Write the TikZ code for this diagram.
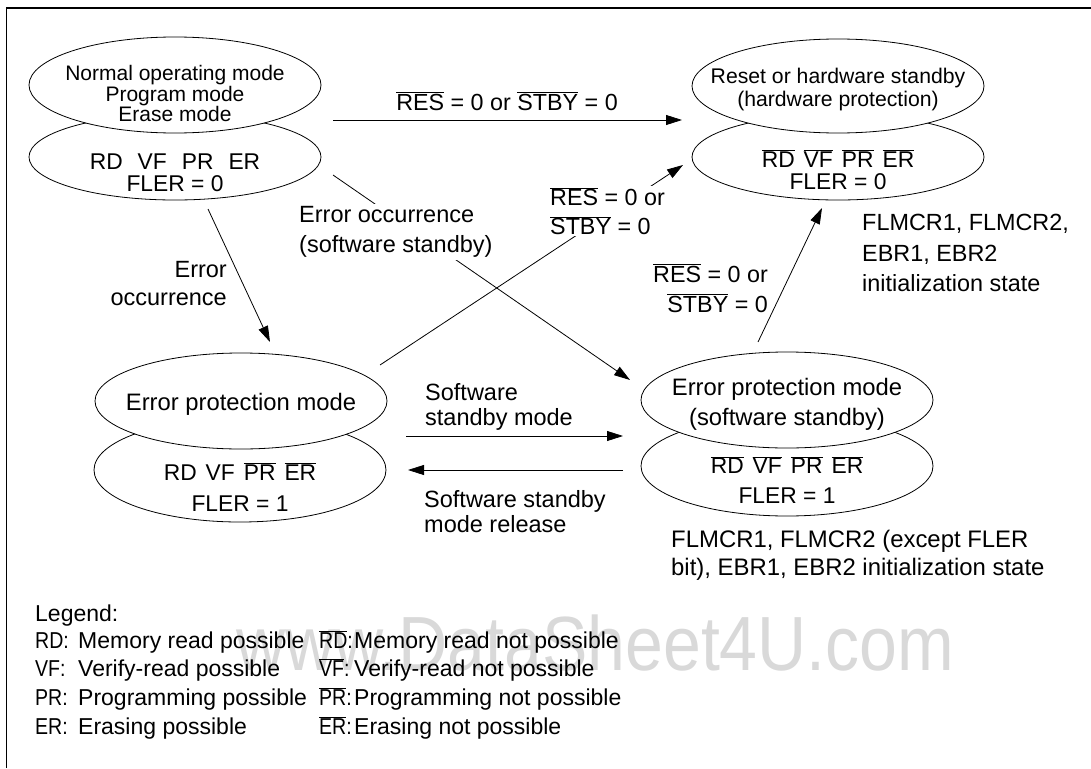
\documentclass[tikz,border=0pt]{standalone}
\usepackage{fontspec}
\setmainfont{Liberation Sans}
\newfontfamily\wmfont{Liberation Sans}
\usetikzlibrary{arrows.meta,shapes.geometric}
\newcommand{\ovl}[1]{$\overline{\mbox{#1}}$}
\newcommand{\gw}{\hspace{15pt}}
\newcommand{\gn}{\hspace{9pt}}
\newcommand{\nk}[1]{\scalebox{0.85}[1]{#1}}
\newcommand{\fs}[2]{\fontsize{#1}{#2}\selectfont}
\begin{document}
\begin{tikzpicture}[x=1pt,y=-1pt,
  font=\fs{23.5}{30},
  ell/.style={draw, ellipse, fill=white, minimum width=292pt, inner sep=0pt, line width=0.8pt},
  arr/.style={-{Triangle[length=16pt,width=10pt]}, line width=0.8pt},
  lbl/.style={inner sep=1pt},
  wl/.style={inner sep=2pt, fill=white},
  lgd/.style={inner sep=0pt, anchor=base west, font=\fs{23}{28}}]
\useasboundingbox (0,0) rectangle (1091,768);
\draw[line width=1.2pt] (6.5,768) -- (6.5,8) -- (1091,8);

% watermark
\node[anchor=base west, text=black!15, font=\wmfont\fs{68}{68}, inner sep=0pt] (wm) at (236,670) {\scalebox{1}[1.13]{www.DataSheet4U.com}};

% ellipses
\node[ell, minimum height=86pt] (A2) at (175,157) {};
\node[ell, minimum height=96pt] (A) at (175,85) {};
\node[ell, minimum height=86pt] (B2) at (838,157) {};
\node[ell, minimum height=94pt] (B) at (838,86) {};
\node[ell, minimum height=104pt] (C2) at (240,470) {};
\node[ell, minimum height=96pt] (C) at (241,401) {};
\node[ell, minimum height=100pt] (D2) at (787,466) {};
\node[ell, minimum height=96pt] (D) at (787,400) {};

% ellipse texts
\node[lbl, align=center, font=\fs{21}{20.5}] (At) at (175,93.5) {Normal operating mode\\Program mode\\Erase mode};
\node[lbl, align=center, font=\fs{22.8}{22.5}] (A2t) at (175,173) {RD\gw VF\gw PR\gw ER\\FLER = 0};
\node[lbl, align=center, font=\fs{21.2}{23}] (Bt) at (838,90) {Reset or hardware standby\\(hardware protection)};
\node[lbl, align=center, font=\fs{22.8}{22}] (B2t) at (838,169.5) {\ovl{RD}\gn\ovl{VF}\gn\ovl{PR}\gn\ovl{ER}\\FLER = 0};
\node[lbl, align=center, font=\fs{23.8}{28}] (Ct) at (241,404) {Error protection mode};
\node[lbl, align=center, font=\fs{22.8}{31}] (C2t) at (240,487) {RD\gn VF\gn\ovl{PR}\gn\ovl{ER}\\FLER = 1};
\node[lbl, align=center, font=\fs{23.8}{30}] (Dt) at (787,404) {Error protection mode\\(software standby)};
\node[lbl, align=center, font=\fs{22.8}{30}] (D2t) at (787,480) {\ovl{RD}\gn\ovl{VF}\gn\ovl{PR}\gn\ovl{ER}\\FLER = 1};

% connector end points
\coordinate (p1s) at (333,120); \coordinate (p1e) at (682,120);
\coordinate (p2s) at (333,175); \coordinate (p2e) at (630,380);
\coordinate (p3s) at (380,365); \coordinate (p3e) at (683,165);
\coordinate (p4s) at (208,209); \coordinate (p4e) at (270,342);
\coordinate (p5s) at (758,342); \coordinate (p5e) at (822,208);
\coordinate (p6s) at (406,436); \coordinate (p6e) at (623,436);
\coordinate (p7s) at (623,470); \coordinate (p7e) at (408,470);

\draw[arr] (p1s) -- (p1e);
\draw[arr] (p2s) -- (p2e);
\draw[arr] (p3s) -- (p3e);
\draw[arr] (p4s) -- (p4e);
\draw[arr] (p5s) -- (p5e);
\draw[arr] (p6s) -- (p6e);
\draw[arr] (p7s) -- (p7e);

% connector labels
\node[lbl, font=\fs{23.3}{29}] (l1) at (507,101) {\ovl{RES} = 0 or \ovl{STBY} = 0};
\node[wl, align=left, anchor=west] (l2) at (297,232) {Error occurrence\\(software standby)};
\node[wl, align=left, anchor=west, inner sep=1pt, font=\fs{23.3}{29}] (l3) at (549,211) {\ovl{RES} = 0 or\\\ovl{STBY} = 0};
\node[lbl, align=right, anchor=east, font=\fs{23.5}{28}] (l4) at (228,284) {Error\\occurrence};
\node[lbl, align=right, anchor=east, font=\fs{23.3}{30}] (l5) at (769,288) {\ovl{RES} = 0 or\\\ovl{STBY} = 0};
\node[lbl, align=left, anchor=west, font=\fs{23.5}{25}] (l6) at (424,407) {Software\\standby mode};
\node[lbl, align=left, anchor=west, font=\fs{23.5}{25}] (l7) at (423,512) {Software standby\\mode release};

% notes
\node[lbl, align=left, anchor=west, font=\fs{23.4}{30.5}] (n1) at (861,253) {FLMCR1, FLMCR2,\\EBR1, EBR2\\initialization state};
\node[lbl, align=left, anchor=west, font=\fs{23.9}{28}] (n2) at (670,555) {FLMCR1, FLMCR2 (except FLER\\bit), EBR1, EBR2 initialization state};

% legend
\node[lgd] (lg) at (35,621) {Legend:};
\node[lgd] (k1) at (35,648) {\nk{RD:}};
\node[lgd] (d1) at (78,648) {Memory read possible};
\node[lgd] (k2) at (35,676.5) {\nk{VF:}};
\node[lgd] (d2) at (78,676.5) {Verify-read possible};
\node[lgd] (k3) at (35,705.5) {\nk{PR:}};
\node[lgd] (d3) at (78,705.5) {Programming possible};
\node[lgd] (k4) at (35,734.5) {\nk{ER:}};
\node[lgd] (d4) at (78,734.5) {Erasing possible};
\node[lgd] (k5) at (319,648) {\nk{\ovl{RD}:}};
\node[lgd] (d5) at (354,648) {Memory read not possible};
\node[lgd] (k6) at (319,676.5) {\nk{\ovl{VF}:}};
\node[lgd] (d6) at (354,676.5) {Verify-read not possible};
\node[lgd] (k7) at (319,705.5) {\nk{\ovl{PR}:}};
\node[lgd] (d7) at (354,705.5) {Programming not possible};
\node[lgd] (k8) at (319,734.5) {\nk{\ovl{ER}:}};
\node[lgd] (d8) at (354,734.5) {Erasing not possible};
\end{tikzpicture}
\end{document}
